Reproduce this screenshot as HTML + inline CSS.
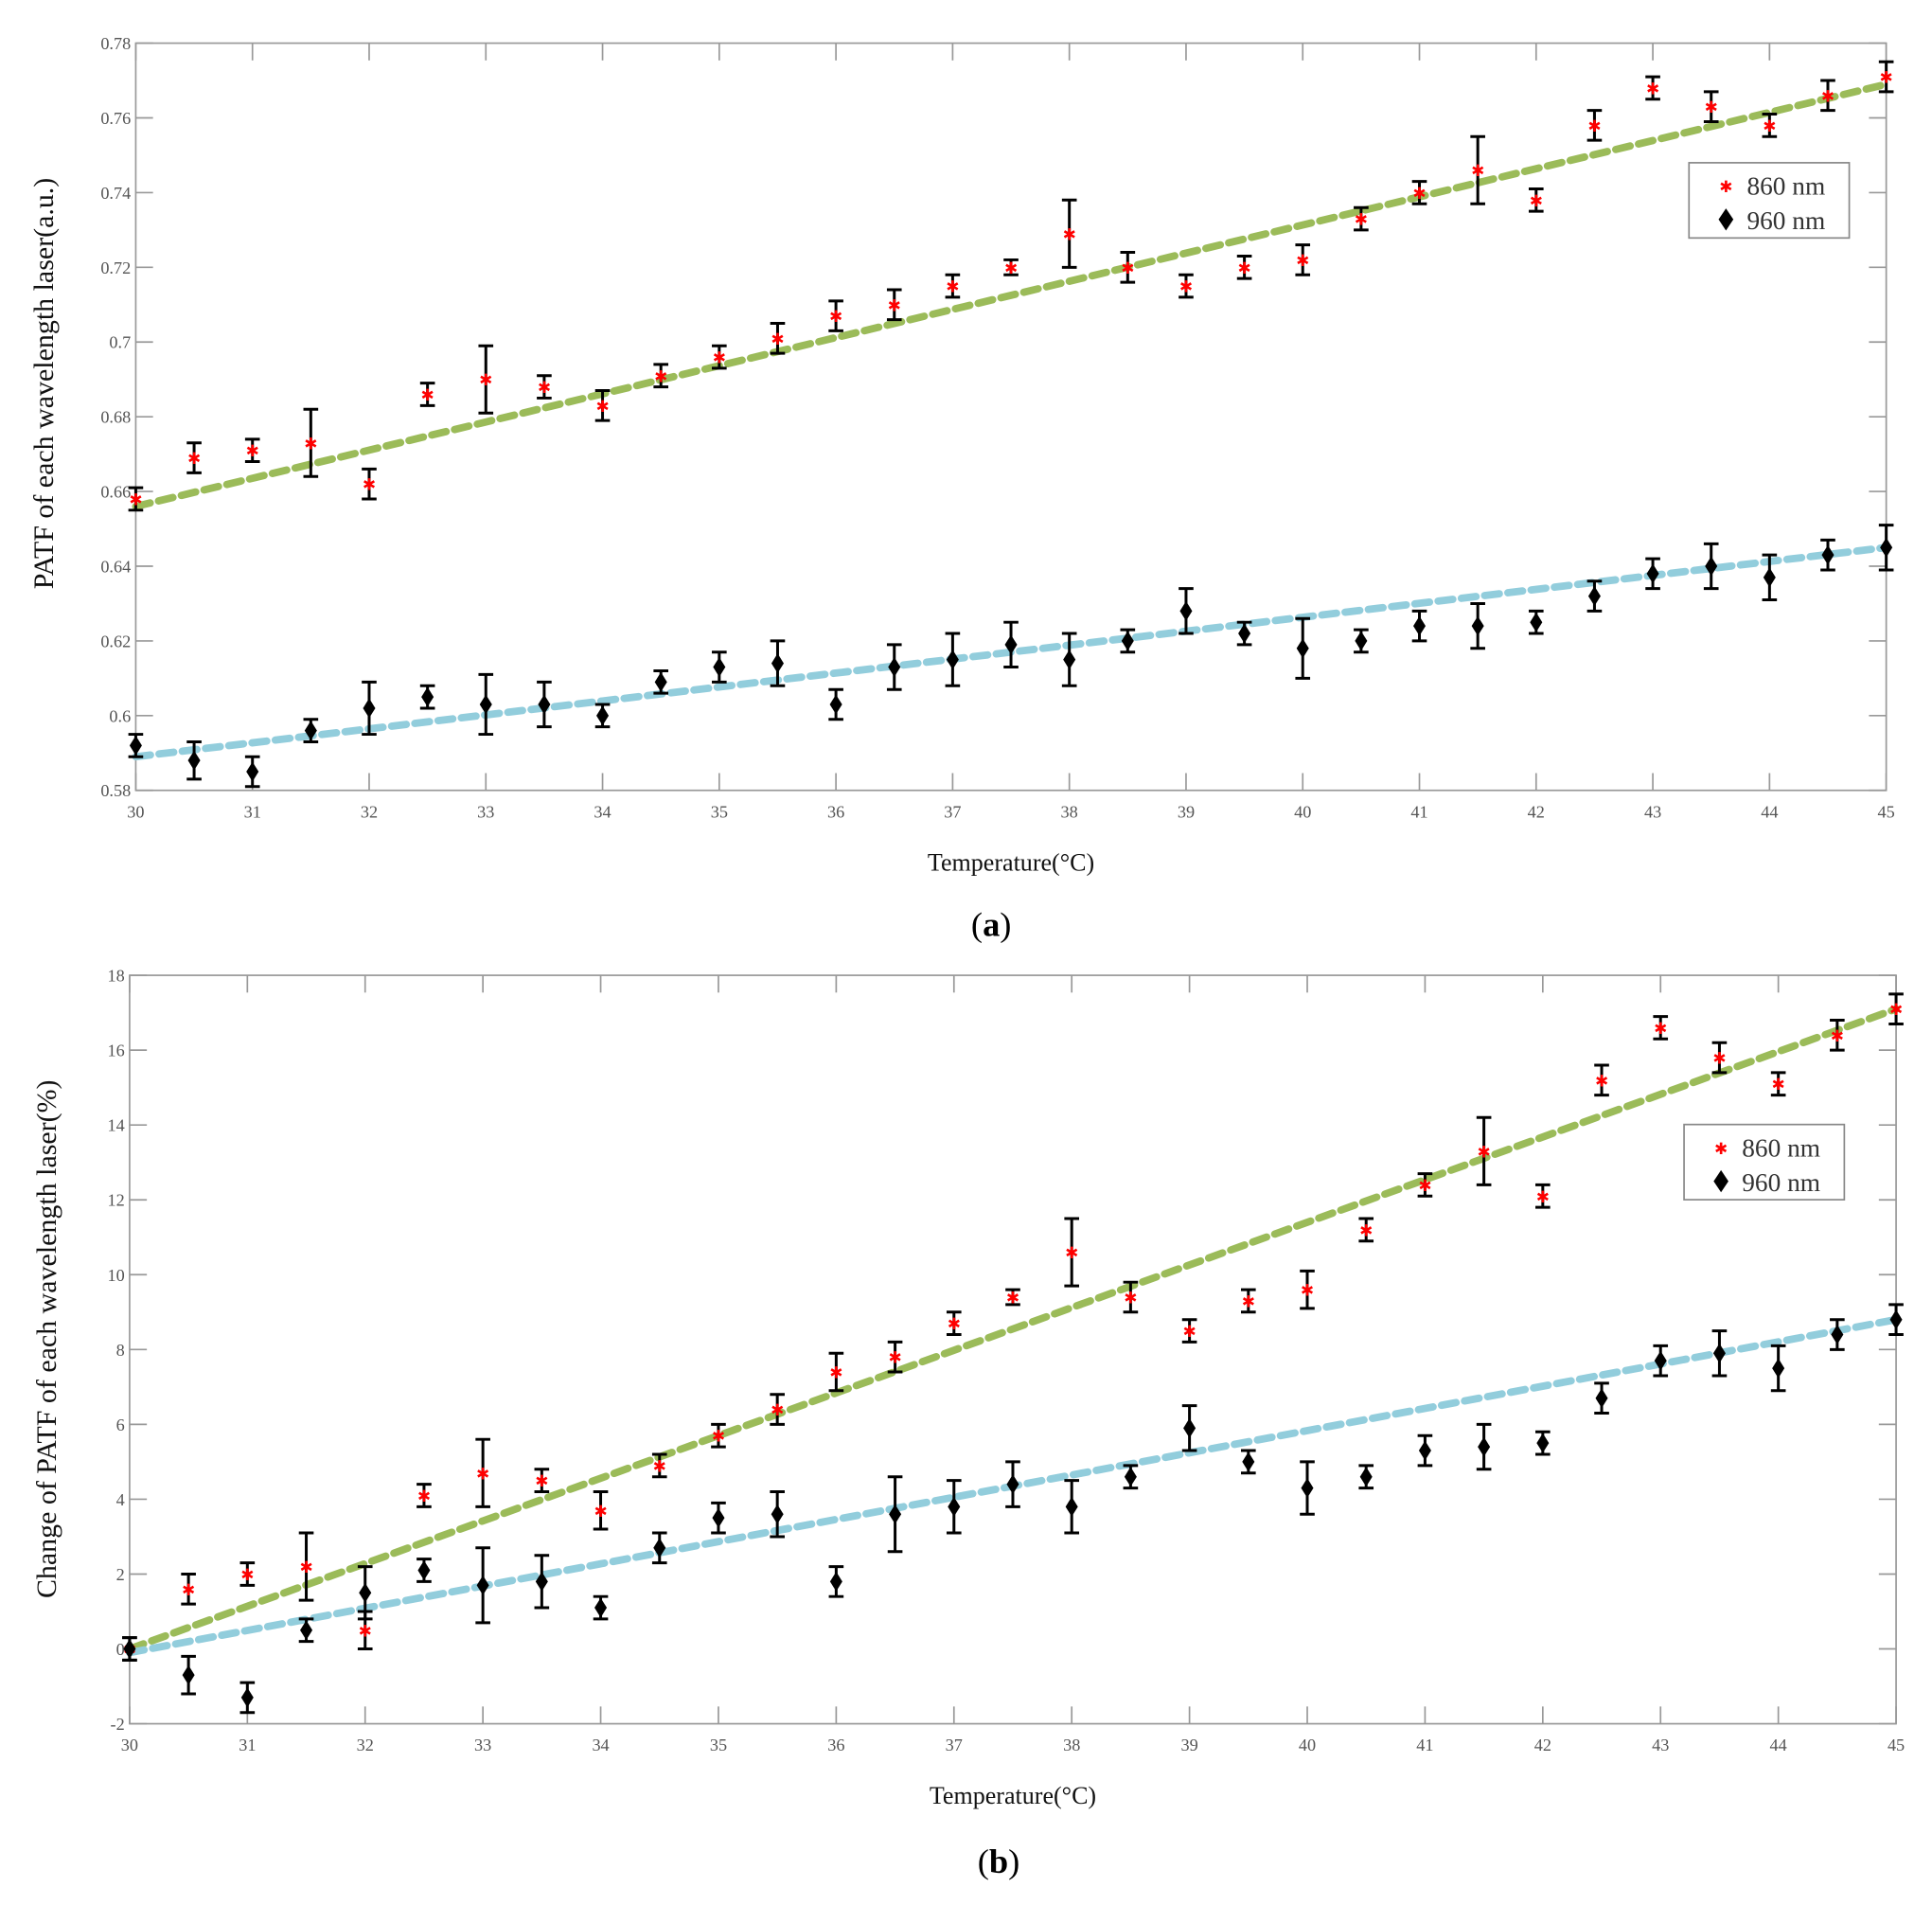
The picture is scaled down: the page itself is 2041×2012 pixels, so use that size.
<!DOCTYPE html>
<html><head><meta charset="utf-8"><style>
html,body{margin:0;padding:0;background:#fff;}
svg{display:block;font-family:"Liberation Serif",serif;}
</style></head><body>
<svg id="chart" width="2041" height="2012" viewBox="0 0 1567 1545" xmlns="http://www.w3.org/2000/svg"></svg>
<script>
const temps=[30,30.5,31,31.5,32,32.5,33,33.5,34,34.5,35,35.5,36,36.5,37,37.5,38,38.5,39,39.5,40,40.5,41,41.5,42,42.5,43,43.5,44,44.5,45];
const a860=[0.658,0.669,0.671,0.673,0.662,0.686,0.690,0.688,0.683,0.691,0.696,0.701,0.707,0.710,0.715,0.720,0.729,0.720,0.715,0.720,0.722,0.733,0.740,0.746,0.738,0.758,0.768,0.763,0.758,0.766,0.771];
const a860err=[0.003,0.004,0.003,0.009,0.004,0.003,0.009,0.003,0.004,0.003,0.003,0.004,0.004,0.004,0.003,0.002,0.009,0.004,0.003,0.003,0.004,0.003,0.003,0.009,0.003,0.004,0.003,0.004,0.003,0.004,0.004];
const a960=[0.592,0.588,0.585,0.596,0.602,0.605,0.603,0.603,0.600,0.609,0.613,0.614,0.603,0.613,0.615,0.619,0.615,0.620,0.628,0.622,0.618,0.620,0.624,0.624,0.625,0.632,0.638,0.640,0.637,0.643,0.645];
const a960err=[0.003,0.005,0.004,0.003,0.007,0.003,0.008,0.006,0.003,0.003,0.004,0.006,0.004,0.006,0.007,0.006,0.007,0.003,0.006,0.003,0.008,0.003,0.004,0.006,0.003,0.004,0.004,0.006,0.006,0.004,0.006];
const aFit860=[0.656,0.769];
const aFit960=[0.589,0.645];
const b860=[0,1.6,2.0,2.2,0.5,4.1,4.7,4.5,3.7,4.9,5.7,6.4,7.4,7.8,8.7,9.4,10.6,9.4,8.5,9.3,9.6,11.2,12.4,13.3,12.1,15.2,16.6,15.8,15.1,16.4,17.1];
const b860err=[0.3,0.4,0.3,0.9,0.5,0.3,0.9,0.3,0.5,0.3,0.3,0.4,0.5,0.4,0.3,0.2,0.9,0.4,0.3,0.3,0.5,0.3,0.3,0.9,0.3,0.4,0.3,0.4,0.3,0.4,0.4];
const b960=[0,-0.7,-1.3,0.5,1.5,2.1,1.7,1.8,1.1,2.7,3.5,3.6,1.8,3.6,3.8,4.4,3.8,4.6,5.9,5.0,4.3,4.6,5.3,5.4,5.5,6.7,7.7,7.9,7.5,8.4,8.8];
const b960err=[0.3,0.5,0.4,0.3,0.7,0.3,1.0,0.7,0.3,0.4,0.4,0.6,0.4,1.0,0.7,0.6,0.7,0.3,0.6,0.3,0.7,0.3,0.4,0.6,0.3,0.4,0.4,0.6,0.6,0.4,0.4];
const bFit860=[0,17.1];
const bFit960=[-0.1,8.8];
const xTicks=[30,31,32,33,34,35,36,37,38,39,40,41,42,43,44,45];
const aYTicks=[0.58,0.6,0.62,0.64,0.66,0.68,0.7,0.72,0.74,0.76,0.78];
const aYLabels=["0.58","0.6","0.62","0.64","0.66","0.68","0.7","0.72","0.74","0.76","0.78"];
const bYTicks=[-2,0,2,4,6,8,10,12,14,16,18];

const NS="http://www.w3.org/2000/svg";
const svg=document.getElementById('chart');
function mk(tag,attrs,parent,text){const e=document.createElementNS(NS,tag);for(const k in attrs)e.setAttribute(k,attrs[k]);if(text!==undefined)e.textContent=text;(parent||svg).appendChild(e);return e;}

function panel(cfg){
  const g=mk('g',{});
  
  
  const sx=v=>cfg.x0+(v-30)/(45-30)*(cfg.x1-cfg.x0);
  const sy=v=>cfg.y1-(v-cfg.ymin)/(cfg.ymax-cfg.ymin)*(cfg.y1-cfg.y0);
  const frame=mk('rect',{x:cfg.x0,y:cfg.y0,width:cfg.x1-cfg.x0,height:cfg.y1-cfg.y0,fill:'none',stroke:'#999','stroke-width':1.3},g);
  
  
  const ax=mk('g',{},g);
  
  
  xTicks.forEach(t=>{const x=sx(t);
    mk('line',{x1:x,x2:x,y1:cfg.y1,y2:cfg.y1-14,stroke:'#999','stroke-width':1.3},ax);
    mk('line',{x1:x,x2:x,y1:cfg.y0,y2:cfg.y0+14,stroke:'#999','stroke-width':1.3},ax);
    const tl=mk('text',{x:x,y:cfg.y1+22,'text-anchor':'middle','font-size':14,fill:'#555'},ax,String(t));
    
    
  });
  const ay=mk('g',{},g);
  
  
  cfg.yTicks.forEach((t,i)=>{const y=sy(t);
    mk('line',{x1:cfg.x0,x2:cfg.x0+14,y1:y,y2:y,stroke:'#999','stroke-width':1.3},ay);
    mk('line',{x1:cfg.x1,x2:cfg.x1-14,y1:y,y2:y,stroke:'#999','stroke-width':1.3},ay);
    const tl=mk('text',{x:cfg.x0-4,y:y+5,'text-anchor':'end','font-size':14,fill:'#555'},ay,cfg.yLabels?cfg.yLabels[i]:String(t));
    
    
  });
  const fits=[[cfg.fit860,'#9bbb59','fit-line-860'],[cfg.fit960,'#92cddc','fit-line-960']];
  fits.forEach(f=>{const l=mk('line',{x1:sx(30),y1:sy(f[0][0]),x2:sx(45),y2:sy(f[0][1]),stroke:f[1],'stroke-width':6,'stroke-dasharray':'12 7','stroke-linecap':'round'},g);
    
    });
  [[cfg.d860,cfg.e860,'860'],[cfg.d960,cfg.e960,'960']].forEach(s=>{
    const sg=mk('g',{},g);
    
    
    temps.forEach((t,i)=>{const x=sx(t),yt=sy(s[0][i]+s[1][i]),yb=sy(s[0][i]-s[1][i]),y=sy(s[0][i]);
      const eb=mk('path',{d:`M${x},${yt}V${yb}M${x-6},${yt}H${x+6}M${x-6},${yb}H${x+6}`,stroke:'#000','stroke-width':2.3,fill:'none'},sg);
      
      
      let m;
      if(s[2]==='860'){m=mk('text',{x:x,y:y+5,'text-anchor':'middle','font-size':13,fill:'#f00','font-family':'DejaVu Sans,sans-serif'},sg,'✱');}
      else{m=mk('path',{d:`M${x},${y-8}L${x+5},${y}L${x},${y+8}L${x-5},${y}Z`,fill:'#000'},sg);}
      
      
    });
  });
  const lg=mk('g',{},g);
  
  
  mk('rect',{x:cfg.lx,y:cfg.ly,width:130,height:61,fill:'#fff',stroke:'#888','stroke-width':1.3},lg);
  const e1=mk('text',{x:cfg.lx+30,y:cfg.ly+24,'text-anchor':'middle','font-size':13,fill:'#f00','font-family':'DejaVu Sans,sans-serif'},lg,'✱');
  
  
  const t1=mk('text',{x:cfg.lx+47,y:cfg.ly+26,'font-size':21,fill:'#333'},lg,'860 nm');
  
  
  const dx=cfg.lx+30,dy=cfg.ly+46;
  const e2=mk('path',{d:`M${dx},${dy-9}L${dx+6},${dy}L${dx},${dy+9}L${dx-6},${dy}Z`,fill:'#000'},lg);
  
  
  const t2=mk('text',{x:cfg.lx+47,y:cfg.ly+54,'font-size':21,fill:'#333'},lg,'960 nm');
  
  
  const xl=mk('text',{x:(cfg.x0+cfg.x1)/2,y:cfg.y1+65,'text-anchor':'middle','font-size':20,fill:'#111','font-family':'Liberation Serif,serif'},g,'Temperature(°C)');
  
  
  const yl=mk('text',{x:0,y:0,'text-anchor':'middle','font-size':cfg.yfs,fill:'#111','font-family':'Liberation Serif,serif',transform:`translate(${cfg.ylx},${cfg.ylc}) rotate(-90)`},g,cfg.ytitle);
  
  
  const pl=mk('text',{x:cfg.plx,y:cfg.ply,'text-anchor':'middle','font-size':28,fill:'#000','font-family':'Liberation Serif,serif'},g,'');
  mk('tspan',{},pl,'(');mk('tspan',{'font-weight':'bold'},pl,cfg.letter);mk('tspan',{},pl,')');
  
  
}
panel({name:'panel-a',x0:110,x1:1530,y0:35,y1:641,ymin:0.58,ymax:0.78,yTicks:aYTicks,yLabels:aYLabels,
  d860:a860,e860:a860err,d960:a960,e960:a960err,fit860:aFit860,fit960:aFit960,lx:1370,ly:132,
  ytitle:'PATF of each wavelength laser(a.u.)',ylx:43,ylc:311,yfs:23,plx:804,ply:759,letter:'a'});
panel({name:'panel-b',x0:105,x1:1538,y0:791,y1:1398,ymin:-2,ymax:18,yTicks:bYTicks,
  d860:b860,e860:b860err,d960:b960,e960:b960err,fit860:bFit860,fit960:bFit960,lx:1366,ly:912,
  ytitle:'Change of PATF of each wavelength laser(%)',ylx:45,ylc:1086,yfs:23,plx:810,ply:1519,letter:'b'});
</script>
</body></html>
